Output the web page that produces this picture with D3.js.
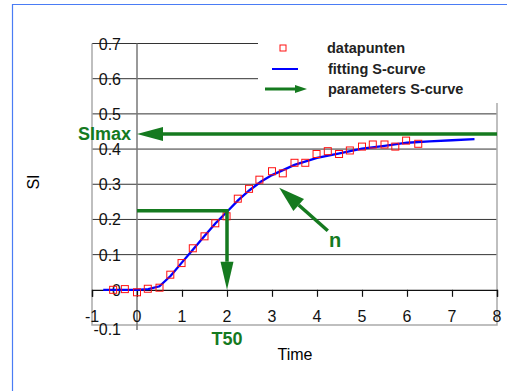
<!DOCTYPE html>
<html>
<head>
<meta charset="utf-8">
<script src="https://cdn.jsdelivr.net/npm/d3@7"></script>
<style>
  body { margin: 0; background: #fff; }
  svg text { font-family: Arial, "Liberation Sans", sans-serif; }
</style>
</head>
<body>
<div id="chart"></div>
<script>
// measured points
const dataX = [-0.53, -0.27, 0, 0.24, 0.5, 0.74, 0.99, 1.24, 1.5, 1.74, 1.99, 2.24, 2.49, 2.72, 3.0, 3.24, 3.5, 3.74, 3.99, 4.24, 4.49, 4.73, 5.0, 5.24, 5.5, 5.74, 5.98, 6.25];
const dataY = [0, 0.002, -0.007, 0.003, 0.006, 0.043, 0.076, 0.118, 0.152, 0.189, 0.209, 0.259, 0.287, 0.313, 0.337, 0.331, 0.361, 0.361, 0.386, 0.394, 0.386, 0.396, 0.407, 0.413, 0.413, 0.407, 0.424, 0.415];

// fitted S-curve
const curveX = [-0.75, -0.5, -0.25, 0, 0.25, 0.5, 0.75, 1, 1.25, 1.5, 1.75, 2, 2.25, 2.5, 2.75, 3, 3.5, 4, 4.5, 5, 5.5, 6, 6.5, 7, 7.5];
const curveY = [0, 0, 0, 0, 0.002, 0.01, 0.04, 0.078, 0.115, 0.153, 0.19, 0.222, 0.255, 0.283, 0.307, 0.326, 0.355, 0.375, 0.388, 0.401, 0.409, 0.418, 0.422, 0.425, 0.428];

const xTicks = [-1, 0, 1, 2, 3, 4, 5, 6, 7, 8];
const yTicks = [-0.1, 0, 0.1, 0.2, 0.3, 0.4, 0.5, 0.6, 0.7];

const siMax = 0.443;
const t50 = 2;
const t50Level = 0.225;
const nArrow = [[4.24, 0.168], [3.16, 0.29]];

const width = 507, height = 391;
const green = "#157a1f";

const svg = d3.select("#chart").append("svg")
  .attr("width", width)
  .attr("height", height);

// blue frame of the page
svg.append("path")
  .attr("d", "M12.5," + height + "V4.5H" + width)
  .attr("fill", "none")
  .attr("stroke", "#4a7cf5")
  .attr("stroke-width", 1.2);

const x = d3.scaleLinear().domain([-1, 8]).range([92, 497]);
const y = d3.scaleLinear().domain([-0.1, 0.7]).range([325, 43.5]);

// grid lines
svg.append("g").selectAll("line")
  .data(yTicks.filter(d => d > 0))
  .enter().append("line")
  .attr("x1", x(-1)).attr("x2", x(8))
  .attr("y1", d => y(d)).attr("y2", d => y(d))
  .attr("stroke", "#333")
  .attr("stroke-width", 1);

// plot frame
svg.append("path")
  .attr("d", `M${x(-1)},${y(0.7)}V${y(-0.1)}H${x(8)}V${y(0.7)}`)
  .attr("fill", "none")
  .attr("stroke", "#aaa")
  .attr("stroke-width", 1.5);

// y axis at x = 0
svg.append("line")
  .attr("x1", x(0)).attr("x2", x(0))
  .attr("y1", y(0.7)).attr("y2", y(-0.1) + 5)
  .attr("stroke", "#777")
  .attr("stroke-width", 1.5);

// x axis at y = 0
const xAxis = d3.axisBottom(x).tickValues(xTicks).tickSize(7).tickFormat("");
const gx = svg.append("g")
  .attr("transform", `translate(0,${y(0)})`)
  .call(xAxis);
gx.select(".domain").attr("stroke", "#111").attr("stroke-width", 1.3);
gx.selectAll(".tick line").attr("stroke", "#111").attr("stroke-width", 1.2);

svg.append("g").selectAll("text")
  .data(xTicks)
  .enter().append("text")
  .attr("x", d => x(d))
  .attr("y", 322)
  .attr("text-anchor", "middle")
  .attr("font-size", 16)
  .attr("fill", "#111")
  .text(d => d);

svg.append("g").selectAll("text")
  .data(yTicks)
  .enter().append("text")
  .attr("x", 121)
  .attr("y", d => y(d) + (d < 0 ? 10 : 6))
  .attr("text-anchor", "end")
  .attr("font-size", 16)
  .attr("fill", "#111")
  .text(d => d);

svg.append("text")
  .attr("x", 295).attr("y", 360)
  .attr("text-anchor", "middle")
  .attr("font-size", 16)
  .text("Time");

svg.append("text")
  .attr("transform", "translate(39,182) rotate(-90)")
  .attr("text-anchor", "middle")
  .attr("font-size", 16)
  .text("SI");

// fitted curve
const line = d3.line().x(d => x(d[0])).y(d => y(d[1]));
svg.append("path")
  .datum(d3.zip(curveX, curveY))
  .attr("d", line)
  .attr("fill", "none")
  .attr("stroke", "#0000ff")
  .attr("stroke-width", 2.3);

// data points
svg.append("g").selectAll("rect")
  .data(d3.zip(dataX, dataY))
  .enter().append("rect")
  .attr("x", d => x(d[0]) - 3.5)
  .attr("y", d => y(d[1]) - 3.5)
  .attr("width", 7).attr("height", 7)
  .attr("fill", "none")
  .attr("stroke", "#ff1010")
  .attr("stroke-width", 1);

// green parameter arrows
function arrow(g, pts, headLen, headW, lw) {
  const a = pts[pts.length - 2], b = pts[pts.length - 1];
  const ang = Math.atan2(b[1] - a[1], b[0] - a[0]);
  const bx = b[0] - headLen * Math.cos(ang), by = b[1] - headLen * Math.sin(ang);
  const shaft = pts.slice(0, -1).concat([[bx, by]]);
  g.append("path")
    .attr("d", d3.line()(shaft))
    .attr("fill", "none")
    .attr("stroke", green)
    .attr("stroke-width", lw);
  const px = -Math.sin(ang) * headW, py = Math.cos(ang) * headW;
  g.append("path")
    .attr("d", `M${b[0]},${b[1]}L${bx + px},${by + py}L${bx - px},${by - py}Z`)
    .attr("fill", green);
}

const ga = svg.append("g");
arrow(ga, [[x(8), y(siMax)], [x(0), y(siMax)]], 26, 7, 3.5);
arrow(ga, [[x(0), y(t50Level)], [x(t50), y(t50Level)], [x(t50), y(0)]], 28, 6.5, 3.5);
arrow(ga, nArrow.map(d => [x(d[0]), y(d[1])]), 26, 8, 3.5);

svg.append("text")
  .attr("x", 131).attr("y", 140)
  .attr("text-anchor", "end")
  .attr("font-size", 18).attr("font-weight", "bold")
  .attr("fill", green)
  .text("SImax");

svg.append("text")
  .attr("x", x(t50)).attr("y", 345)
  .attr("text-anchor", "middle")
  .attr("font-size", 18).attr("font-weight", "bold")
  .attr("fill", green)
  .text("T50");

svg.append("text")
  .attr("x", 335).attr("y", 247)
  .attr("text-anchor", "middle")
  .attr("font-size", 20).attr("font-weight", "bold")
  .attr("fill", green)
  .text("n");

// legend
const lg = svg.append("g");
lg.append("rect")
  .attr("x", 258).attr("y", 32)
  .attr("width", 249).attr("height", 71)
  .attr("fill", "#fff");
lg.append("rect")
  .attr("x", 280).attr("y", 45)
  .attr("width", 6).attr("height", 6)
  .attr("fill", "none").attr("stroke", "#ff1010");
lg.append("line")
  .attr("x1", 272).attr("x2", 298)
  .attr("y1", 69).attr("y2", 69)
  .attr("stroke", "#0000ff").attr("stroke-width", 2);
arrow(lg, [[265, 89], [307, 89]], 12, 4, 3);

const legendNames = ["datapunten", "fitting S-curve", "parameters S-curve"];
lg.selectAll("text.leg")
  .data(legendNames)
  .enter().append("text")
  .attr("class", "leg")
  .attr("x", (d, i) => i === 0 ? 327 : 328)
  .attr("y", (d, i) => 53 + i * 20.5)
  .attr("font-size", 14.5).attr("font-weight", "bold")
  .attr("fill", "#222")
  .text(d => d);
</script>
</body>
</html>
